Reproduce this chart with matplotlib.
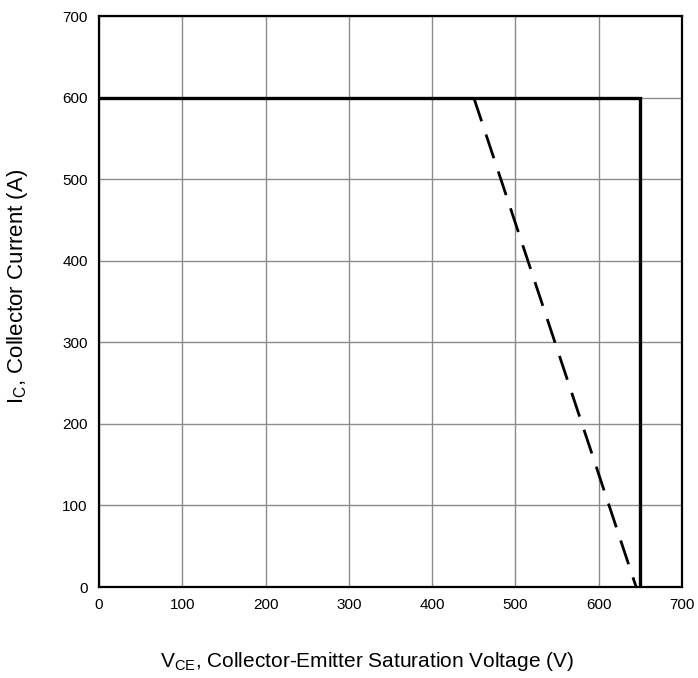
import matplotlib.pyplot as plt

# ---- Data ---- #
soa_v = [0, 650, 650]        # solid limit, VCE (V)
soa_i = [600, 600, 0]        # solid limit, IC (A)
dash_v = [450, 645]          # dashed limit, VCE (V)
dash_i = [600, 0]            # dashed limit, IC (A)
ticks = [0, 100, 200, 300, 400, 500, 600, 700]

plt.rcParams["font.family"] = ["Liberation Sans", "DejaVu Sans"]
plt.rcParams["mathtext.fontset"] = "custom"
plt.rcParams["mathtext.rm"] = "Liberation Sans"

fig = plt.figure(figsize=(6.98, 6.78), dpi=100)
ax = fig.add_axes([0.1418, 0.1342, 0.8352, 0.8422])

ax.plot(soa_v, soa_i, color="black", lw=2.4, solid_joinstyle="miter", zorder=3)
ax.plot(dash_v, dash_i, color="black", lw=2.0, dashes=(9, 5), zorder=3)

ax.set_xlim(0, 700)
ax.set_ylim(0, 700)
ax.set_xticks(ticks)
ax.set_yticks(ticks)
ax.tick_params(length=0, labelsize=11, pad=8)
ax.grid(True, color="#8c8c8c", lw=1.0)
ax.set_axisbelow(True)
for s in ax.spines.values():
    s.set_linewidth(1.6)

ax.set_xlabel(r"V$_{\mathregular{CE}}$, Collector-Emitter Saturation Voltage (V)",
              fontsize=15)
ax.set_ylabel(r"I$_{\mathregular{C}}$, Collector Current (A)", fontsize=16)
# labels sit a bit off-centre in the original
ax.xaxis.set_label_coords(0.46, -0.11)
ax.yaxis.set_label_coords(-0.118, 0.526)

fig.savefig("out.png", dpi=100)
